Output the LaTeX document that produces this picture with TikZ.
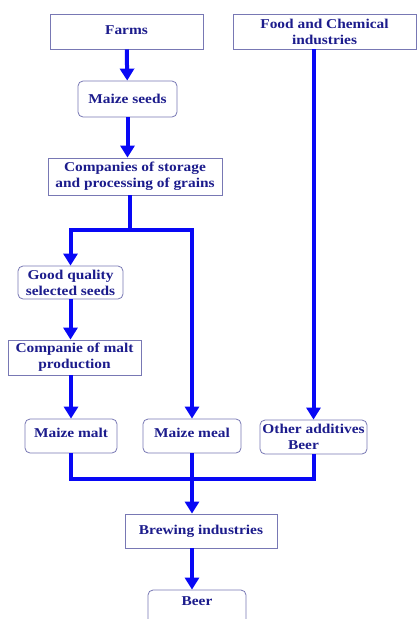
\documentclass[tikz,border=0pt]{standalone}
\usepackage{fontspec}
\setmainfont{Liberation Serif}[FakeStretch=1.14]
\usetikzlibrary{arrows.meta,positioning}
\definecolor{flowblue}{RGB}{8,8,245}
\definecolor{labelnavy}{RGB}{28,28,140}
\definecolor{rimgray}{RGB}{120,120,180}

\begin{document}
\begin{tikzpicture}[x=1pt,y=-1pt,
    box/.style={draw=rimgray,line width=0.8pt,fill=white,align=center,inner sep=1pt,
      text=labelnavy,font=\bfseries\fontsize{13.5}{16}\selectfont},
    rbox/.style={box,rounded corners=5pt},
    flow/.style={draw=flowblue,line width=4pt},
    arr/.style={flow,-{Triangle[width=14pt,length=12pt]}}]
   \useasboundingbox (0,0) rectangle (417,619);
   \node[box,minimum width=153pt,minimum height=35pt] (farms) at (126.5,31.5) {Farms\vphantom{p}};
   \node[box,minimum width=183pt,minimum height=35pt] (food) at (324.5,31.5) {Food and Chemical\\industries};
   \node[rbox,minimum width=99pt,minimum height=36pt] (seeds) at (127.5,99) {Maize seeds};
   \node[box,minimum width=174pt,minimum height=37pt] (storage) at (135,176.5) {Companies of storage\\and processing of grains};
   \node[rbox,minimum width=105pt,minimum height=33pt] (quality) at (70.5,282.5) {Good quality\\selected seeds};
   \node[box,minimum width=133pt,minimum height=35pt] (maltco) at (74.5,357.5) {Companie of malt\\production};
   \node[rbox,minimum width=92pt,minimum height=34pt,text depth=7pt] (malt) at (71,436) {Maize malt};
   \node[rbox,minimum width=98pt,minimum height=34pt,text depth=7pt] (meal) at (192,436) {Maize meal};
   \node[rbox,minimum width=107pt,minimum height=34pt] (other) at (313.5,437) {Other additives\\Beer\hspace*{20pt}};
   \node[box,minimum width=152pt,minimum height=34pt] (brewing) at (201,531) {Brewing industries};
   \node[rbox,minimum width=98pt,minimum height=40pt,text depth=18pt] (beer) at (197,610) {Beer};
   \coordinate (split) at (130,230);
   \coordinate (join) at (193,479);

   \draw[arr] (farms) -- (seeds);
   \draw[arr] (seeds) -- (seeds |- storage.north);
   \draw[flow] (storage.south -| split) -- (split);
   \draw[arr] (split) -| (quality.north);
   \draw[arr] (split) -| (meal.north);
   \draw[arr] (food.south -| other.north) -- (other.north);
   \draw[arr] (quality.south) -- (quality.south |- maltco.north);
   \draw[arr] (malt.north |- maltco.south) -- (malt.north);
   \draw[flow] (malt.south) |- (join) -| (other.south);
   \draw[arr] (meal.south) -- (meal.south |- brewing.north);
   \draw[arr] (meal.south |- brewing.south) -- (meal.south |- beer.north);
\end{tikzpicture}
\end{document}
